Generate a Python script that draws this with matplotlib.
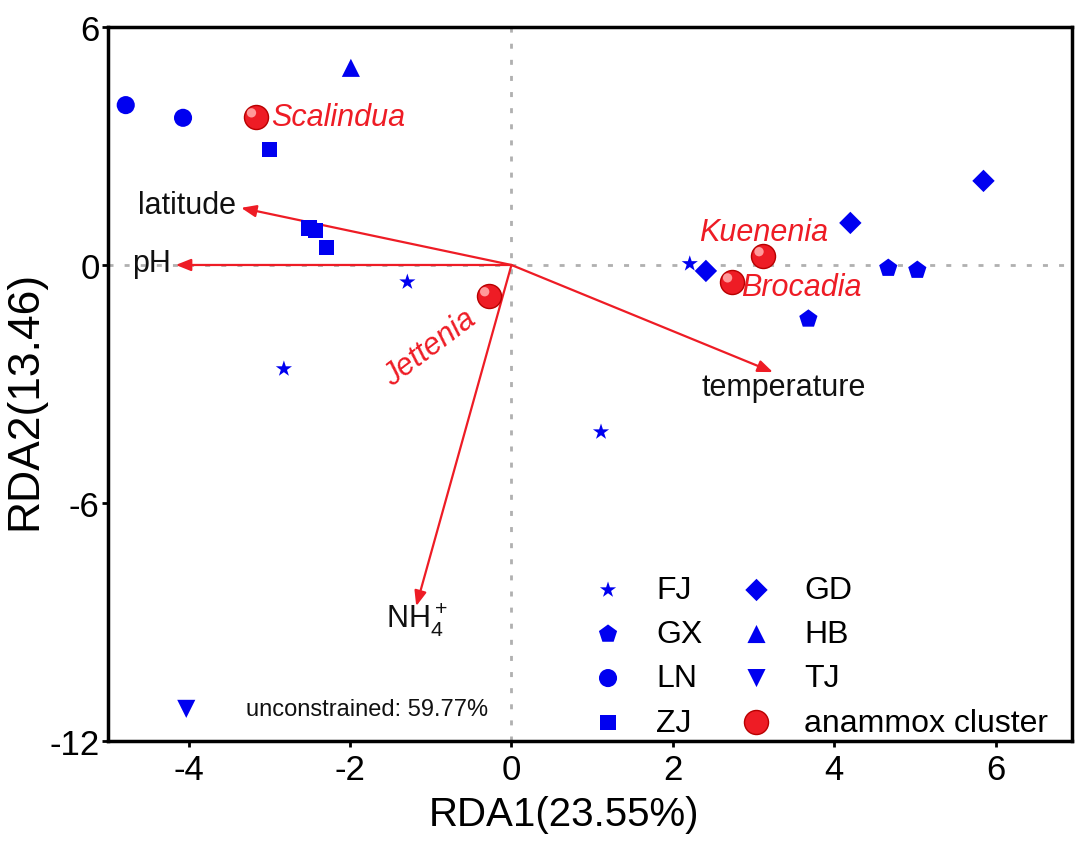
import matplotlib
matplotlib.use("Agg")
import matplotlib.pyplot as plt
from matplotlib.transforms import offset_copy

plt.rcParams['font.family'] = ['Liberation Sans', 'DejaVu Sans']
plt.rcParams['mathtext.default'] = 'regular'
plt.rcParams['axes.unicode_minus'] = False

# sample scores (RDA1, RDA2) per province
FJ_x = [-1.29, -2.82, 1.11, 2.21]
FJ_y = [-0.43, -2.62, -4.21, 0.03]
GX_x = [4.67, 5.03, 3.68]
GX_y = [-0.08, -0.13, -1.36]
LN_x = [-4.78, -4.07]
LN_y = [4.03, 3.71]
ZJ_x = [-3.00, -2.51, -2.43, -2.29]
ZJ_y = [2.92, 0.93, 0.86, 0.45]
GD_x = [2.41, 4.20, 5.85]
GD_y = [-0.15, 1.06, 2.12]
HB_x = [-1.99]
HB_y = [4.97]
TJ_x = [-4.03]
TJ_y = [-11.19]

# anammox clusters
clusters = ['Scalindua', 'Kuenenia', 'Brocadia', 'Jettenia']
cl_x = [-3.17, 3.12, 2.73, -0.28]
cl_y = [3.73, 0.23, -0.43, -0.78]

# environmental vectors
env = ['latitude', 'pH', 'temperature', 'NH$_4^+$']
env_x = [-3.35, -4.16, 3.24, -1.18]
env_y = [1.44, 0.0, -2.70, -8.60]

blue = '#0000f0'
red = '#ee1c25'

fig = plt.figure(figsize=(10.81, 8.45), dpi=100)
ax = fig.add_axes([0.0999, 0.1219, 0.892, 0.845])

ax.axhline(0, color='#b0b0b0', lw=2, ls=(0, (1.8, 4)), zorder=1)
ax.axvline(0, color='#b0b0b0', lw=2, ls=(0, (1.8, 4)), zorder=1)

# arrows
for name, x, y in zip(env, env_x, env_y):
    ax.annotate('', xy=(x, y), xytext=(0, 0),
                arrowprops=dict(arrowstyle='-|>,head_length=0.45,head_width=0.18',
                                color=red, lw=1.6, shrinkA=0, shrinkB=0,
                                mutation_scale=20), zorder=3)

ax.text(-3.41, 1.51, 'latitude', ha='right', va='center', fontsize=22, color='#111111')
ax.text(-4.22, 0.05, 'pH', ha='right', va='center', fontsize=22, color='#111111')
ax.text(3.38, -3.08, 'temperature', ha='center', va='center', fontsize=22, color='#111111')
ax.text(-1.56, -8.92, env[3], ha='left', va='center', fontsize=22, color='#111111')

ms = dict(color=blue, edgecolors='none', zorder=4)
h_fj = ax.scatter(FJ_x, FJ_y, marker='*', s=150, label='FJ', **ms)
h_gx = ax.scatter(GX_x, GX_y, marker='p', s=190, label='GX', **ms)
h_ln = ax.scatter(LN_x, LN_y, marker='o', s=170, label='LN', **ms)
h_zj = ax.scatter(ZJ_x, ZJ_y, marker='s', s=120, label='ZJ', **ms)
h_gd = ax.scatter(GD_x, GD_y, marker='D', s=130, label='GD', **ms)
h_hb = ax.scatter(HB_x, HB_y, marker='^', s=170, label='HB', **ms)
h_tj = ax.scatter(TJ_x, TJ_y, marker='v', s=170, label='TJ', **ms)

# red "spheres"
h_cl = ax.scatter(cl_x, cl_y, marker='o', s=300, color=red, edgecolors='#b80000',
                  linewidths=1, zorder=5, label='anammox cluster')
hl = offset_copy(ax.transData, fig=fig, x=-3, y=3, units='points')
ax.scatter(cl_x, cl_y, marker='o', s=45, color='#ff9a9a', edgecolors='none',
           zorder=6, transform=hl)

lab = dict(color=red, fontsize=22, style='italic')
ax.text(-2.98, 3.73, 'Scalindua', ha='left', va='center', **lab)
ax.text(3.13, 0.83, 'Kuenenia', ha='center', va='center', **lab)
ax.text(2.84, -0.55, 'Brocadia', ha='left', va='center', **lab)
ax.text(-0.42, -1.42, 'Jettenia', ha='right', va='baseline', rotation=37,
        rotation_mode='anchor', **lab)

ax.text(-3.29, -11.19, 'unconstrained: 59.77%', ha='left', va='center',
        fontsize=17, color='#111111')

ax.legend(handles=[h_fj, h_gx, h_ln, h_zj, h_gd, h_hb, h_tj, h_cl], ncol=2,
          frameon=False, fontsize=23, loc='upper left',
          bbox_to_anchor=(0.502, 0.232), borderpad=0, borderaxespad=0,
          handlelength=1.0, handletextpad=1.0, columnspacing=1.2,
          labelspacing=0.44, scatterpoints=1)

ax.set_xlim(-5, 6.95)
ax.set_ylim(-12, 6)
ax.set_xticks([-4, -2, 0, 2, 4, 6])
ax.set_yticks([-12, -6, 0, 6])
ax.tick_params(direction='out', length=4, width=2, labelsize=25)
ax.tick_params(axis='x', pad=5)
ax.tick_params(axis='y', pad=2)
for s in ax.spines.values():
    s.set_linewidth(2.5)

ax.set_xlabel('RDA1(23.55%)', fontsize=29)
ax.set_ylabel('RDA2(13.46)', fontsize=32)
ax.xaxis.set_label_coords(0.473, -0.075)
ax.yaxis.set_label_coords(-0.065, 0.478)

fig.savefig('out.png', dpi=100)
